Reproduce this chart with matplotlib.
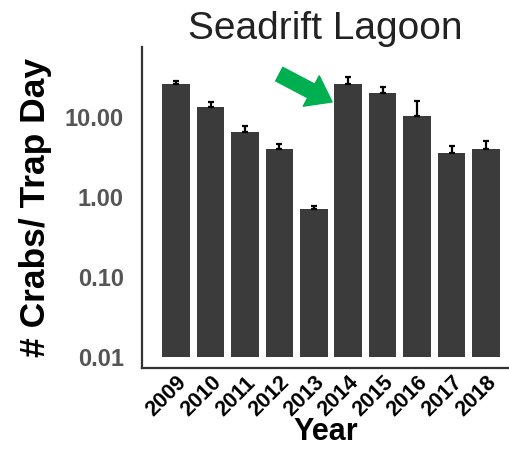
import matplotlib
matplotlib.use("Agg")
import matplotlib.pyplot as plt
import numpy as np

years = ["2009", "2010", "2011", "2012", "2013", "2014", "2015", "2016", "2017", "2018"]
crabs_per_day = [25.8, 13.3, 6.5, 4.0, 0.71, 25.8, 20.0, 10.3, 3.55, 4.0]
err_upper = [2.4, 2.1, 1.2, 0.6, 0.06, 5.8, 3.7, 5.5, 0.75, 1.0]
yticks = [0.01, 0.1, 1, 10]
ytick_labels = ["0.01", "0.10", "1.00", "10.00"]

plt.rcParams["font.family"] = ["Liberation Sans", "DejaVu Sans"]

fig = plt.figure(figsize=(5.09, 4.51), dpi=100)
ax = fig.add_axes([0.279, 0.184, 0.721, 0.712])

x = np.arange(len(years))
base = 0.01
heights = np.array(crabs_per_day) - base
ax.bar(x, heights, bottom=base, width=0.8, color="#3b3b3b", zorder=2)
ax.errorbar(x, crabs_per_day, yerr=[np.zeros(len(x)), err_upper], fmt="none",
            ecolor="black", elinewidth=1.6, capsize=2.5, capthick=1.6, zorder=3)

ax.set_yscale("log")
ax.set_ylim(0.0073, 75)
ax.set_xlim(-0.99, 9.67)
ax.set_yticks(yticks)
ax.set_yticklabels(ytick_labels)
ax.minorticks_off()
ax.set_xticks(x)
ax.set_xticklabels(years, rotation=45, ha="right", rotation_mode="anchor")

ax.tick_params(axis="y", length=0, labelsize=17, pad=13)
ax.tick_params(axis="x", length=0, labelsize=15.5, pad=3)
for t in ax.get_yticklabels():
    t.set_fontweight("bold")
    t.set_color("#555555")
for t in ax.get_xticklabels():
    t.set_fontweight("bold")
    t.set_color("black")

for side in ("top", "right"):
    ax.spines[side].set_visible(False)
for side in ("left", "bottom"):
    ax.spines[side].set_color("#333333")
    ax.spines[side].set_linewidth(1.6)

ax.set_title("Seadrift Lagoon", fontsize=28, pad=5, color="#222222")
ax.set_xlabel("Year", fontsize=22, fontweight="bold", labelpad=-3)
ax.set_ylabel("# Crabs/ Trap Day", fontsize=25.5, fontweight="bold", labelpad=9)

# green arrow pointing at the 2014 bar
ax.annotate("", xy=(4.53, 15.4), xytext=(-38, 20), textcoords="offset points",
            arrowprops=dict(arrowstyle="simple,head_length=1.3,head_width=1.9,tail_width=0.85",
                            mutation_scale=13, color="#00b050", shrinkA=0, shrinkB=0))

fig.savefig("out.png", dpi=100)
